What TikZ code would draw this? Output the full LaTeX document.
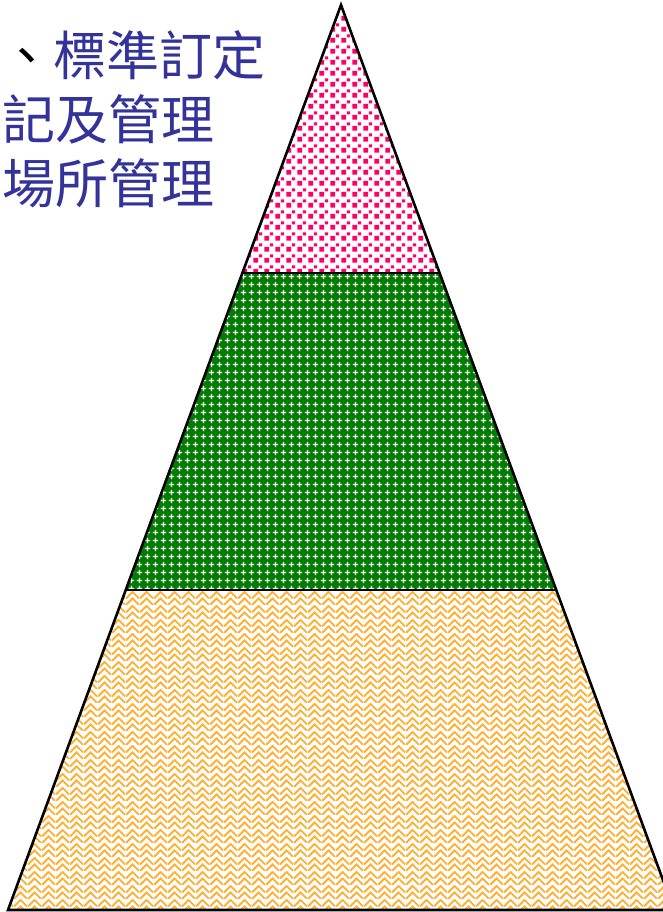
\documentclass[tikz,border=0pt]{standalone}
\usepackage{fontspec}
\newfontfamily\cjk{Noto Sans CJK TC}
\usetikzlibrary{calc,positioning,patterns.meta}
\definecolor{titleblue}{RGB}{51,51,153}
\definecolor{toppink}{RGB}{255,0,102}
\definecolor{midgreen}{RGB}{0,125,0}
\definecolor{baseorange}{RGB}{255,175,50}

\tikzdeclarepattern{name=pinksquares,type=uncolored,
  bounding box={(0pt,0pt) and (11pt,11pt)},tile size={(11pt,11pt)},
  code={\fill (0.5pt,0.5pt) rectangle (5.5pt,5.5pt);
        \fill (6.5pt,6pt) rectangle (10pt,9.5pt);}}
\tikzdeclarepattern{name=whitecross,type=uncolored,
  bounding box={(0pt,0pt) and (8pt,8pt)},tile size={(8pt,8pt)},
  code={\fill (3.3pt,1pt) rectangle (4.7pt,7pt);
        \fill (1pt,3.3pt) rectangle (7pt,4.7pt);}}
\tikzdeclarepattern{name=weave,type=uncolored,
  bounding box={(0pt,0pt) and (14pt,14pt)},tile size={(14pt,14pt)},
  code={\draw[line width=2pt] (0pt,0pt) -- (7pt,7pt) -- (14pt,0pt);
        \draw[line width=2pt] (0pt,7pt) -- (7pt,14pt) -- (14pt,7pt);}}

\begin{document}
\begin{tikzpicture}[x=1pt,y=-1pt]
\tikzstyle{title} = [anchor=base west,inner sep=0pt,font=\cjk\fontsize{53}{53}\selectfont,text=titleblue]
\tikzstyle{outline} = [draw=black,line width=2.6pt,line join=miter]

\fill [white] (0,0) rectangle (663,912);
\clip (0,0) rectangle (663,912);

\coordinate (apex) at (341,5);
\coordinate (bl) at (8,910);
\coordinate (br) at (674,910);
\coordinate (l1) at ($(apex)!0.2961!(bl)$);
\coordinate (r1) at ($(apex)!0.2961!(br)$);
\coordinate (l2) at ($(apex)!0.6464!(bl)$);
\coordinate (r2) at ($(apex)!0.6464!(br)$);

%top
\fill [pattern={pinksquares},pattern color=toppink] (apex) -- (r1) -- (l1) -- cycle;
%middle
\fill [midgreen] (l1) -- (r1) -- (r2) -- (l2) -- cycle;
\fill [pattern={whitecross},pattern color=white] (l1) -- (r1) -- (r2) -- (l2) -- cycle;
%base
\fill [pattern={weave},pattern color=baseorange] (l2) -- (r2) -- (br) -- (bl) -- cycle;

\draw [outline] (apex) -- (br) -- (bl) -- cycle;
\draw [outline] (l1) -- (r1);
\draw [outline] (l2) -- (r2);

\node [title] (t1) at (0,76) {{\color{black}、}標準訂定};
\node [title] (t2) at (2,140) {記及管理};
\node [title] (t3) at (2,203) {場所管理};
\end{tikzpicture}
\end{document}
